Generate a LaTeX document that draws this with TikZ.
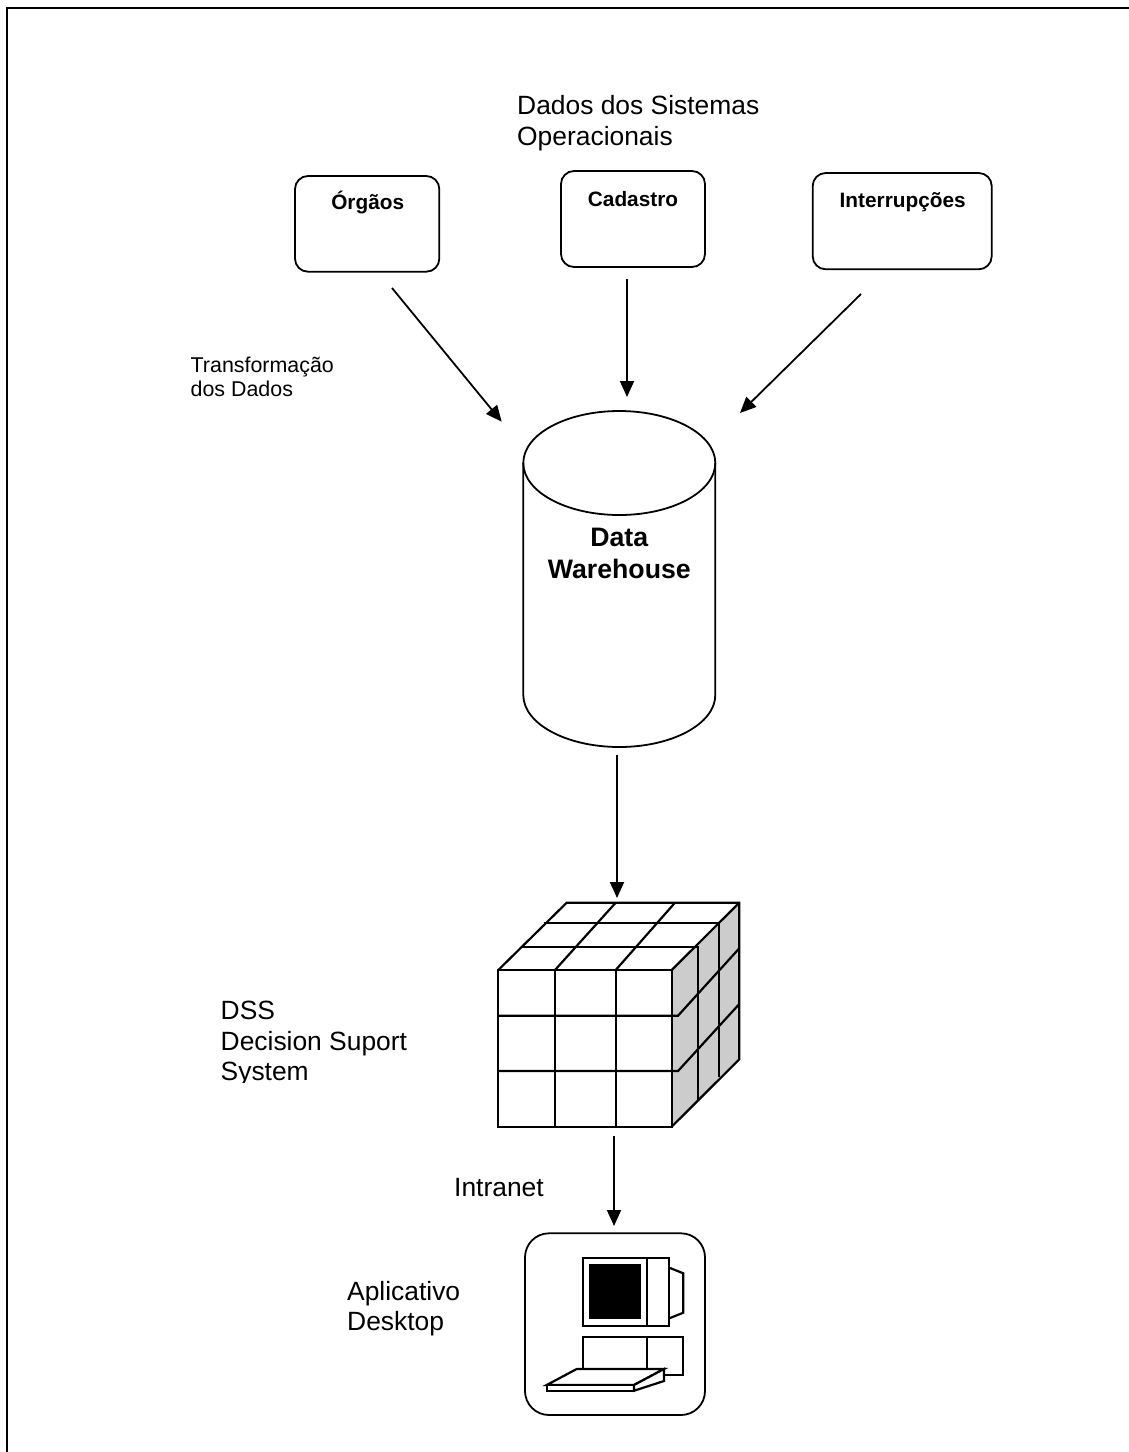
\documentclass[tikz,border=0pt]{standalone}
\usepackage{fontspec}
\setmainfont{Liberation Sans}
\usetikzlibrary{arrows.meta}
\tikzset{
  flow/.style={draw=black,line width=1.8pt,-{Triangle[length=16pt,width=14pt]}},
  srcbox/.style={draw=black,line width=1.8pt,rounded corners=13pt,fill=white},
  srclabel/.style={font=\fontsize{20.8}{24}\selectfont\bfseries,inner sep=0pt},
  lab/.style={font=\fontsize{26.4}{30.4}\selectfont,align=left,anchor=north west,inner sep=0pt},
  smalllab/.style={font=\fontsize{21.4}{24.6}\selectfont,align=left,anchor=north west,inner sep=0pt},
  ink/.style={draw=black,line width=2.2pt,line join=miter},
}
\begin{document}
\begin{tikzpicture}[x=1pt,y=-1pt]
\useasboundingbox (0,0) rectangle (1129,1452);
\fill[white] (0,0) rectangle (1129,1452);
% frame
\draw[line width=2pt] (7.3,1452) -- (7.3,7.7) -- (1129,7.7);
% source boxes
\draw[srcbox] (295,176) rectangle (439.3,271.7);
\draw[srcbox] (561,171) rectangle (705,267);
\draw[srcbox] (812.7,173) rectangle (991.7,269.3);
\node[srclabel] (orgaos) at (367.7,202) {Órgãos};
\node[srclabel] (cadastro) at (633,199) {Cadastro};
\node[srclabel] (interrup) at (902.7,202.5) {Interrupções};
\coordinate (bo1) at (392,288);
\coordinate (bo2) at (501.7,421.7);
\coordinate (bc1) at (627,279);
\coordinate (bc2) at (627,397);
\coordinate (bi1) at (861,294);
\coordinate (bi2) at (740,413);
\draw[flow] (bo1) -- (bo2);
\draw[flow] (bc1) -- (bc2);
\draw[flow] (bi1) -- (bi2);
% labels
\node[lab] (dados) at (517,95.5) {Dados dos Sistemas\\Operacionais};
\node[smalllab] (transf) at (190.5,356.5) {Transformação\\dos Dados};
% cylinder
\draw[line width=1.8pt,fill=white] (523.3,463) -- (523.3,695) arc[start angle=180,end angle=360,x radius=96,y radius=-52] -- (715.3,463);
\draw[line width=1.8pt] (619.3,463) ellipse[x radius=96,y radius=52];
\node[font=\fontsize{26.7}{32}\selectfont\bfseries,align=center,inner sep=0pt] (dw) at (619.3,553) {Data\\Warehouse};
\coordinate (c1) at (617,755);
\coordinate (c2) at (617,898);
\draw[flow] (c1) -- (c2);
% cube
\fill[black!20] (671.7,970) -- (739.3,902.7) -- (739.3,1059.3) -- (671.7,1126.7) -- cycle;
\draw[ink] (498.3,970) rectangle (671.7,1126.7);
\draw[ink] (498.3,970) -- (566.7,902.7) -- (739.3,902.7) -- (739.3,1059.3) -- (671.7,1126.7);
\draw[ink] (671.7,970) -- (739.3,902.7);
\draw[ink] (555,970) -- (615.7,902.7) (615.7,970) -- (675,902.7);
\draw[ink] (555,970) -- (555,1126.7) (615.7,970) -- (615.7,1126.7);
\draw[ink] (498.3,1015.7) -- (678,1015.7) -- (739.3,948.3);
\draw[ink] (498.3,1071) -- (678,1071) -- (739.3,1004);
\draw[ink] (543.5,922.7) -- (719.3,922.7) -- (719.3,1076.7);
\draw[ink] (520.7,947.3) -- (698.3,947.3) -- (698.3,1100);
% cube labels
\node[lab] (dss) at (220.5,1001) {DSS\\Decision Suport};
\begin{scope}
\clip (200,1060) rectangle (440,1082.5);
\node[lab] (sys) at (220.5,1061.8) {System};
\end{scope}
\coordinate (d1) at (614,1136);
\coordinate (d2) at (614,1226);
\draw[flow] (d1) -- (d2);
\node[lab] (intranet) at (454,1178) {Intranet};
\node[lab] (aplic) at (347,1281) {Aplicativo\\Desktop};
% desktop
\draw[line width=1.8pt,rounded corners=24pt] (525,1233.3) rectangle (705,1415);
\draw[ink] (582.7,1257.7) rectangle (669.3,1326);
\draw[ink] (646.7,1257.7) -- (646.7,1326);
\fill (589.3,1264.3) rectangle (641,1319.3);
\draw[ink] (669.3,1267.7) -- (683.3,1273.3) -- (683.3,1312.7) -- (669.3,1318.3);
\draw[ink] (582.7,1369) -- (582.7,1337.3) -- (683.3,1337.3) -- (683.3,1375) -- (664,1375);
\draw[ink] (646.7,1337.3) -- (646.7,1369);
\draw[ink,fill=white] (576.7,1369) -- (664,1369) -- (634,1385) -- (546.7,1385) -- cycle;
\draw[ink,fill=white] (546.7,1385) -- (546.7,1390.7) -- (634,1390.7) -- (634,1385) -- cycle;
\draw[ink,fill=white] (634,1385) -- (634,1390.7) -- (664,1381) -- (664,1369) -- cycle;
\end{tikzpicture}
\end{document}
